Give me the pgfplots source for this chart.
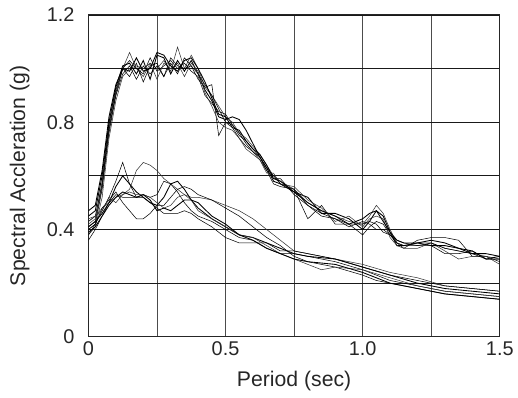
\documentclass[border=0pt]{standalone}
\usepackage{fontspec}
\setmainfont{Liberation Sans}
\usepackage{pgfplots}
\pgfplotsset{compat=1.18}

\begin{document}
\begin{tikzpicture}
\begin{axis}[
  scale only axis,
  width=310.5pt, height=243pt,
  xmin=0, xmax=1.5, ymin=0, ymax=1.2,
  xtick={0,0.25,...,1.5}, xticklabels={0,,0.5,,1.0,,1.5},
  ytick={0,0.2,...,1.2}, yticklabels={0,,0.4,,0.8,,1.2},
  major tick length=0pt,
  grid=major,
  x grid style={black!70, line width=0.6pt},
  y grid style={black!90, line width=0.6pt},
  axis line style={black!85, line width=0.7pt},
  /pgf/number format/assume math mode=true,
  tick label style={font=\fontsize{15}{17}\selectfont, black!85},
  yticklabel style={xshift=-7pt},
  xlabel={Period (sec)}, ylabel={Spectral Accleration (g)},
  every axis x label/.style={at={([yshift=-33pt]axis description cs:0.5,0)}, anchor=center, font=\fontsize{16}{18}\selectfont, black!85},
  every axis y label/.style={at={([xshift=-52pt]axis description cs:0,0.5)}, anchor=center, rotate=90, font=\fontsize{16}{18}\selectfont, black!85},
  cycle list={{black!80, line width=0.65pt, mark=none, solid}},
]
% upper group
\addplot coordinates {(0,0.42)(0.025,0.44)(0.05,0.58)(0.075,0.78)(0.1,0.90)(0.125,1.00)(0.15,1.06)(0.175,1.00)(0.2,0.97)(0.225,1.02)(0.25,1.00)(0.275,1.03)(0.3,0.99)(0.325,1.08)(0.35,1.00)(0.375,1.05)(0.4,1.00)(0.425,0.93)(0.45,0.90)(0.475,0.86)(0.5,0.82)(0.525,0.80)(0.55,0.76)(0.575,0.74)(0.6,0.71)(0.625,0.68)(0.65,0.64)(0.675,0.60)(0.7,0.58)(0.75,0.55)(0.8,0.50)(0.85,0.47)(0.9,0.45)(0.95,0.43)(1.0,0.42)(1.025,0.45)(1.05,0.49)(1.075,0.46)(1.1,0.40)(1.125,0.35)(1.15,0.34)(1.2,0.35)(1.25,0.35)(1.3,0.33)(1.35,0.32)(1.4,0.31)(1.45,0.30)(1.5,0.29)};
\addplot coordinates {(0,0.45)(0.025,0.47)(0.05,0.60)(0.075,0.80)(0.1,0.93)(0.125,1.01)(0.15,1.02)(0.175,0.98)(0.2,1.03)(0.225,0.96)(0.25,1.05)(0.275,1.04)(0.3,0.98)(0.325,1.03)(0.35,0.99)(0.375,1.03)(0.4,0.98)(0.425,0.92)(0.45,0.88)(0.475,0.82)(0.5,0.81)(0.525,0.82)(0.55,0.81)(0.575,0.77)(0.6,0.72)(0.625,0.67)(0.65,0.63)(0.675,0.58)(0.7,0.57)(0.75,0.54)(0.8,0.52)(0.85,0.46)(0.9,0.46)(0.95,0.44)(1.0,0.40)(1.025,0.43)(1.05,0.47)(1.075,0.45)(1.1,0.39)(1.125,0.34)(1.15,0.34)(1.2,0.35)(1.25,0.36)(1.3,0.35)(1.35,0.33)(1.4,0.32)(1.45,0.29)(1.5,0.30)};
\addplot coordinates {(0,0.40)(0.025,0.42)(0.05,0.55)(0.075,0.76)(0.1,0.90)(0.125,0.98)(0.15,1.01)(0.175,0.96)(0.2,1.01)(0.225,0.98)(0.25,1.01)(0.275,0.97)(0.3,1.02)(0.325,0.98)(0.35,1.04)(0.375,1.01)(0.4,0.96)(0.425,0.93)(0.45,0.94)(0.475,0.75)(0.5,0.80)(0.525,0.78)(0.55,0.74)(0.575,0.71)(0.6,0.69)(0.625,0.66)(0.65,0.62)(0.675,0.57)(0.7,0.56)(0.75,0.55)(0.8,0.44)(0.85,0.49)(0.9,0.42)(0.95,0.42)(1.0,0.38)(1.025,0.41)(1.05,0.43)(1.075,0.42)(1.1,0.38)(1.125,0.35)(1.15,0.33)(1.2,0.36)(1.25,0.37)(1.3,0.37)(1.35,0.36)(1.4,0.30)(1.45,0.30)(1.5,0.28)};
\addplot coordinates {(0,0.43)(0.025,0.45)(0.05,0.57)(0.075,0.77)(0.1,0.91)(0.125,1.00)(0.15,1.03)(0.175,1.00)(0.2,0.98)(0.225,1.04)(0.25,0.99)(0.275,1.01)(0.3,1.03)(0.325,1.00)(0.35,1.02)(0.375,0.99)(0.4,0.97)(0.425,0.90)(0.45,0.87)(0.475,0.84)(0.5,0.83)(0.525,0.79)(0.55,0.75)(0.575,0.73)(0.6,0.70)(0.625,0.67)(0.65,0.62)(0.675,0.59)(0.7,0.59)(0.75,0.53)(0.8,0.49)(0.85,0.45)(0.9,0.44)(0.95,0.41)(1.0,0.43)(1.025,0.42)(1.05,0.40)(1.075,0.40)(1.1,0.38)(1.125,0.36)(1.15,0.35)(1.2,0.34)(1.25,0.34)(1.3,0.31)(1.35,0.31)(1.4,0.32)(1.45,0.29)(1.5,0.29)};
\addplot coordinates {(0,0.38)(0.025,0.41)(0.05,0.52)(0.075,0.74)(0.1,0.88)(0.125,0.97)(0.15,1.00)(0.175,1.01)(0.2,1.00)(0.225,1.02)(0.25,0.96)(0.275,1.02)(0.3,1.00)(0.325,1.02)(0.35,0.97)(0.375,1.02)(0.4,0.99)(0.425,0.91)(0.45,0.86)(0.475,0.80)(0.5,0.78)(0.525,0.77)(0.55,0.74)(0.575,0.70)(0.6,0.68)(0.625,0.66)(0.65,0.61)(0.675,0.61)(0.7,0.57)(0.75,0.56)(0.8,0.51)(0.85,0.48)(0.9,0.43)(0.95,0.45)(1.0,0.41)(1.025,0.44)(1.05,0.45)(1.075,0.44)(1.1,0.37)(1.125,0.34)(1.15,0.33)(1.2,0.33)(1.25,0.35)(1.3,0.32)(1.35,0.29)(1.4,0.30)(1.45,0.30)(1.5,0.27)};
\addplot coordinates {(0,0.47)(0.025,0.49)(0.05,0.62)(0.075,0.82)(0.1,0.94)(0.125,1.00)(0.15,0.99)(0.175,1.04)(0.2,0.99)(0.225,1.00)(0.25,1.06)(0.275,1.05)(0.3,1.01)(0.325,0.99)(0.35,1.03)(0.375,1.04)(0.4,1.00)(0.425,0.95)(0.45,0.89)(0.475,0.83)(0.5,0.82)(0.525,0.78)(0.55,0.77)(0.575,0.73)(0.6,0.70)(0.625,0.68)(0.65,0.64)(0.675,0.59)(0.7,0.58)(0.75,0.54)(0.8,0.50)(0.85,0.47)(0.9,0.45)(0.95,0.42)(1.0,0.44)(1.025,0.46)(1.05,0.47)(1.075,0.43)(1.1,0.39)(1.125,0.36)(1.15,0.35)(1.2,0.35)(1.25,0.34)(1.3,0.34)(1.35,0.33)(1.4,0.31)(1.45,0.31)(1.5,0.30)};
\addplot coordinates {(0,0.41)(0.025,0.43)(0.05,0.56)(0.075,0.79)(0.1,0.92)(0.125,1.00)(0.15,0.97)(0.175,1.02)(0.2,0.95)(0.225,1.01)(0.25,1.02)(0.275,0.97)(0.3,1.04)(0.325,1.01)(0.35,1.00)(0.375,1.01)(0.4,0.98)(0.425,0.94)(0.45,0.90)(0.475,0.85)(0.5,0.80)(0.525,0.79)(0.55,0.76)(0.575,0.72)(0.6,0.69)(0.625,0.67)(0.65,0.63)(0.675,0.60)(0.7,0.57)(0.75,0.55)(0.8,0.49)(0.85,0.46)(0.9,0.44)(0.95,0.42)(1.0,0.42)(1.025,0.43)(1.05,0.42)(1.075,0.39)(1.1,0.38)(1.125,0.35)(1.15,0.34)(1.2,0.34)(1.25,0.35)(1.3,0.33)(1.35,0.32)(1.4,0.31)(1.45,0.29)(1.5,0.29)};
% lower group
\addplot coordinates {(0,0.40)(0.025,0.42)(0.05,0.47)(0.075,0.52)(0.1,0.58)(0.125,0.65)(0.15,0.57)(0.175,0.52)(0.2,0.53)(0.225,0.52)(0.25,0.53)(0.275,0.58)(0.3,0.57)(0.325,0.54)(0.35,0.50)(0.375,0.47)(0.4,0.45)(0.45,0.43)(0.5,0.40)(0.55,0.37)(0.6,0.36)(0.65,0.33)(0.7,0.31)(0.75,0.31)(0.8,0.30)(0.9,0.28)(1.0,0.25)(1.1,0.21)(1.2,0.19)(1.25,0.18)(1.3,0.17)(1.4,0.16)(1.5,0.15)};
\addplot coordinates {(0,0.43)(0.025,0.45)(0.05,0.48)(0.075,0.50)(0.1,0.52)(0.125,0.53)(0.15,0.55)(0.175,0.62)(0.2,0.65)(0.225,0.64)(0.25,0.62)(0.275,0.59)(0.3,0.57)(0.325,0.55)(0.35,0.53)(0.375,0.52)(0.4,0.52)(0.45,0.51)(0.5,0.49)(0.55,0.47)(0.6,0.44)(0.65,0.40)(0.7,0.36)(0.75,0.32)(0.8,0.31)(0.9,0.29)(1.0,0.27)(1.1,0.24)(1.2,0.22)(1.3,0.19)(1.4,0.18)(1.5,0.17)};
\addplot coordinates {(0,0.41)(0.025,0.43)(0.05,0.46)(0.075,0.50)(0.1,0.56)(0.125,0.60)(0.15,0.57)(0.175,0.54)(0.2,0.52)(0.225,0.50)(0.25,0.49)(0.275,0.52)(0.3,0.57)(0.325,0.58)(0.35,0.55)(0.375,0.51)(0.4,0.48)(0.45,0.44)(0.5,0.41)(0.55,0.38)(0.6,0.37)(0.65,0.35)(0.7,0.33)(0.75,0.31)(0.8,0.30)(0.9,0.29)(1.0,0.26)(1.1,0.23)(1.2,0.20)(1.3,0.18)(1.4,0.17)(1.5,0.16)};
\addplot coordinates {(0,0.38)(0.025,0.42)(0.05,0.48)(0.075,0.51)(0.1,0.54)(0.125,0.50)(0.15,0.47)(0.175,0.44)(0.2,0.44)(0.225,0.46)(0.25,0.49)(0.275,0.49)(0.3,0.52)(0.325,0.55)(0.35,0.56)(0.375,0.55)(0.4,0.53)(0.45,0.51)(0.5,0.48)(0.55,0.45)(0.6,0.41)(0.65,0.37)(0.7,0.34)(0.75,0.30)(0.8,0.28)(0.9,0.26)(1.0,0.23)(1.05,0.21)(1.1,0.20)(1.2,0.18)(1.3,0.16)(1.4,0.15)(1.5,0.14)};
\addplot coordinates {(0,0.36)(0.025,0.40)(0.05,0.45)(0.075,0.50)(0.1,0.53)(0.125,0.52)(0.15,0.52)(0.175,0.52)(0.2,0.52)(0.225,0.50)(0.25,0.48)(0.275,0.46)(0.3,0.46)(0.325,0.46)(0.35,0.47)(0.375,0.46)(0.4,0.44)(0.45,0.41)(0.5,0.37)(0.55,0.35)(0.6,0.35)(0.65,0.35)(0.7,0.32)(0.75,0.32)(0.8,0.31)(0.9,0.29)(1.0,0.26)(1.1,0.23)(1.2,0.21)(1.3,0.19)(1.4,0.18)(1.5,0.17)};
\addplot coordinates {(0,0.44)(0.025,0.45)(0.05,0.47)(0.075,0.52)(0.1,0.50)(0.125,0.53)(0.15,0.54)(0.175,0.53)(0.2,0.53)(0.225,0.52)(0.25,0.50)(0.275,0.48)(0.3,0.49)(0.325,0.52)(0.35,0.53)(0.375,0.51)(0.4,0.47)(0.45,0.44)(0.5,0.41)(0.55,0.38)(0.6,0.37)(0.65,0.34)(0.7,0.31)(0.75,0.29)(0.8,0.27)(0.85,0.25)(0.9,0.26)(1.0,0.25)(1.1,0.22)(1.2,0.19)(1.3,0.17)(1.4,0.16)(1.5,0.15)};
\addplot coordinates {(0,0.39)(0.025,0.41)(0.05,0.45)(0.075,0.49)(0.1,0.52)(0.125,0.54)(0.15,0.53)(0.175,0.52)(0.2,0.53)(0.225,0.51)(0.25,0.47)(0.275,0.48)(0.3,0.47)(0.325,0.49)(0.35,0.51)(0.375,0.51)(0.4,0.50)(0.45,0.45)(0.5,0.42)(0.55,0.38)(0.6,0.36)(0.65,0.33)(0.7,0.31)(0.75,0.29)(0.8,0.28)(0.9,0.27)(1.0,0.24)(1.1,0.20)(1.2,0.18)(1.3,0.16)(1.4,0.15)(1.5,0.14)};
\end{axis}
\path ([shift={(-66.75pt,-45.75pt)}]current axis.south west) rectangle ([shift={(11.25pt,11.25pt)}]current axis.north east);
\end{tikzpicture}
\end{document}
